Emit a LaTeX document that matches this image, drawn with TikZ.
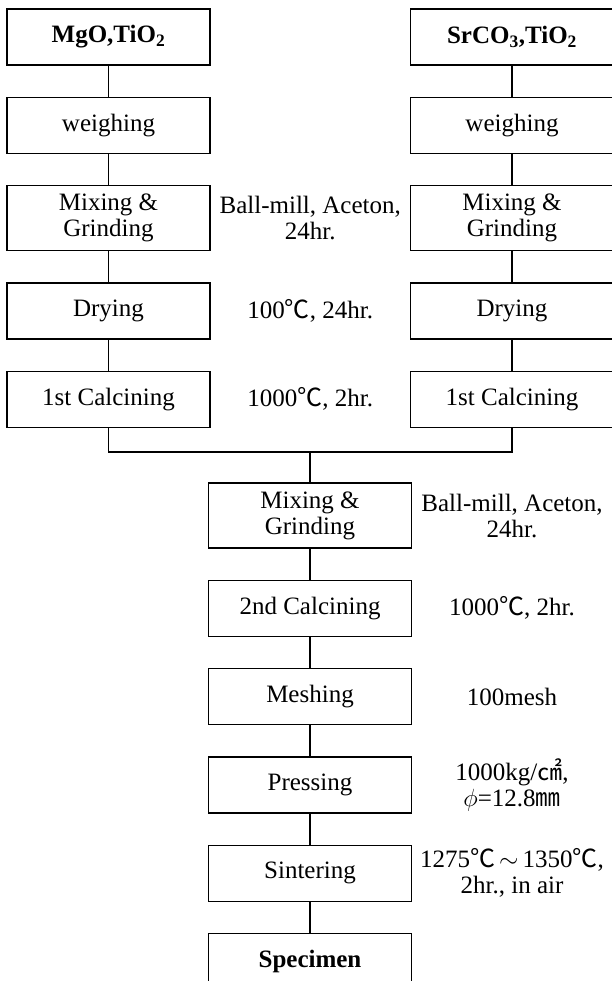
\documentclass[tikz,border=0pt]{standalone}
\usepackage{fontspec}
\setmainfont{Liberation Serif}
\newfontfamily\cjk{Noto Sans CJK KR}
\usetikzlibrary{positioning,calc}
\newcommand{\dgc}{{\cjk ℃}}

\begin{document}
\begin{tikzpicture}[
  node distance=31pt,
  txt/.style={font=\fontsize{25}{26}\selectfont},
  box/.style={draw, line width=1.3pt, align=center, minimum width=203pt, minimum height=56pt, inner sep=2pt, txt},
  tall/.style={box, minimum height=65pt},
  bold/.style={font=\fontsize{25}{26}\selectfont\bfseries},
  note/.style={align=center, txt},
  flow/.style={line width=1.3pt}
]
\useasboundingbox (0,0) rectangle (611pt,-981pt);

\node[box, bold] (rawL) at (108.5pt,-37pt) {MgO,TiO\textsubscript{2}};
\node[box, below=of rawL] (weighL) {weighing};
\node[tall, below=of weighL] (mixL) {Mixing \&\\Grinding};
\node[box, below=of mixL] (dryL) {Drying};
\node[box, below=of dryL] (calL) {1st Calcining};

\node[box, bold] (rawR) at (512pt,-37pt) {SrCO\textsubscript{3},TiO\textsubscript{2}};
\node[box, below=of rawR] (weighR) {weighing};
\node[tall, below=of weighR] (mixR) {Mixing \&\\Grinding};
\node[box, below=of mixR] (dryR) {Drying};
\node[box, below=of dryR] (calR) {1st Calcining};

\node[note] (noteMix) at ($(mixL)!0.5!(mixR)$) {Ball-mill, Aceton,\\24hr.};
\node[note] (noteDry) at ($(dryL)!0.5!(dryR)$) {100\dgc, 24hr.};
\node[note] (noteCal) at ($(calL)!0.5!(calR)$) {1000\dgc, 2hr.};

\coordinate (join) at (310pt,-452pt);
\node[tall] (mixC) at (310pt,-515.5pt) {Mixing \&\\Grinding};
\node[box, below=of mixC] (cal2) {2nd Calcining};
\node[box, below=of cal2] (mesh) {Meshing};
\node[box, below=of mesh] (press) {Pressing};
\node[box, below=of press] (sinter) {Sintering};
\node[box, bold, below=of sinter] (spec) {Specimen};

\node[note] (noteMixC) at (mixC -| rawR) {Ball-mill, Aceton,\\24hr.};
\node[note] (noteCal2) at (cal2 -| rawR) {1000\dgc, 2hr.};
\node[note] (noteMesh) at (mesh -| rawR) {100mesh};
\node[note] (notePress) at (press -| rawR) {1000kg/{\cjk ㎠},\\$\phi$=12.8{\cjk ㎜}};
\node[note] (noteSinter) at (sinter -| rawR) {1275\dgc\,$\sim$\,1350\dgc,\\2hr., in air};

\draw[flow] (rawL) -- (weighL);
\draw[flow] (weighL) -- (mixL);
\draw[flow] (mixL) -- (dryL);
\draw[flow] (dryL) -- (calL);
\draw[flow] (rawR) -- (weighR);
\draw[flow] (weighR) -- (mixR);
\draw[flow] (mixR) -- (dryR);
\draw[flow] (dryR) -- (calR);
\draw[flow] (calL.south) |- (join);
\draw[flow] (calR.south) |- (join);
\draw[flow] (join) -- (mixC);
\draw[flow] (mixC) -- (cal2);
\draw[flow] (cal2) -- (mesh);
\draw[flow] (mesh) -- (press);
\draw[flow] (press) -- (sinter);
\draw[flow] (sinter) -- (spec);
\end{tikzpicture}
\end{document}
